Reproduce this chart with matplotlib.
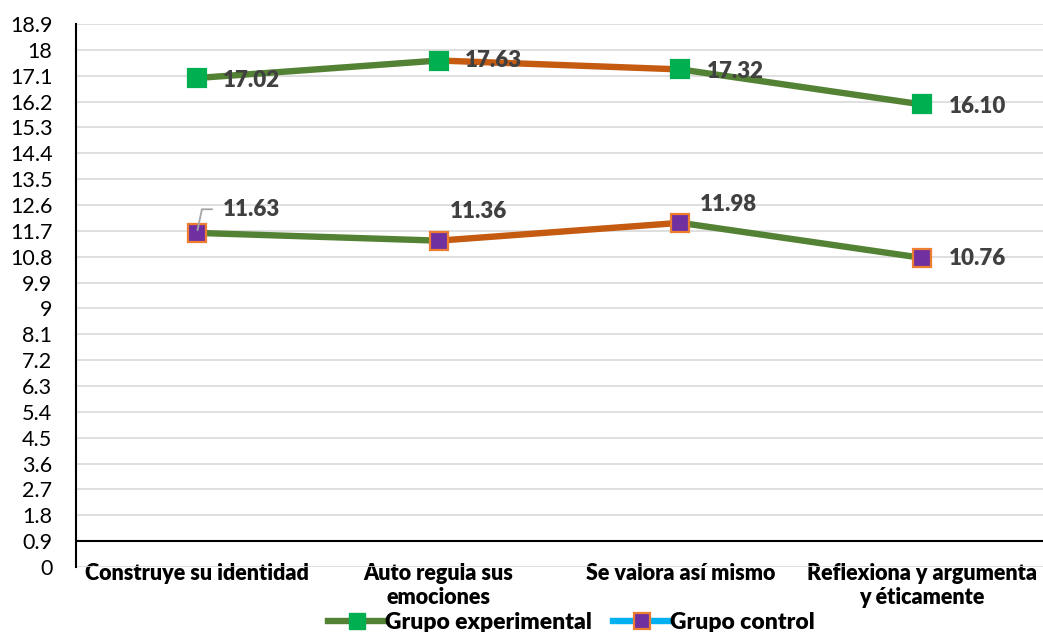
import matplotlib.pyplot as plt
import numpy as np
from matplotlib.lines import Line2D

plt.rcParams['font.family'] = ['Lato', 'DejaVu Sans']

categories = ['Construye su identidad', 'Auto regula sus\nemociones',
              'Se valora así mismo', 'Reflexiona y argumenta\ny éticamente']
experimental = [17.02, 17.63, 17.32, 16.10]
control = [11.63, 11.36, 11.98, 10.76]
# colour of each segment between consecutive points
exp_seg_colors = ['#548235', '#C55A11', '#548235']
ctl_seg_colors = ['#548235', '#C55A11', '#548235']
yticks = np.round(np.arange(0, 19.0, 0.9), 1)

GREEN = '#548235'
LABEL = '#404040'
BOLD = 'heavy'

fig = plt.figure(figsize=(10.43, 6.32), dpi=100)
ax = fig.add_axes([0.0729, 0.1028, 0.9271, 0.8592])

x = np.arange(len(categories))

def draw_series(vals, seg_colors, face, edge):
    for i, c in enumerate(seg_colors):
        ax.plot(x[i:i + 2], vals[i:i + 2], color=c, lw=4.6, solid_capstyle='butt', zorder=3)
    ax.plot(x, vals, ls='none', marker='s', ms=13.5, mfc=face, mec=edge, mew=1.6, zorder=4)

draw_series(experimental, exp_seg_colors, '#00B050', '#00B050')
draw_series(control, ctl_seg_colors, '#7030A0', '#ED7D31')

# data labels (offsets in points)
exp_off = [(18.7, -1.5), (18.7, 0), (18.7, -1.5), (19.4, -1.5)]
ctl_off = [(18.7, 16.5), (8, 21), (13.7, 13), (19.4, -0.7)]
for i, v in enumerate(experimental):
    ax.annotate(f'{v:.2f}', (x[i], v), xytext=exp_off[i], textcoords='offset points',
                ha='left', va='center', fontsize=16, fontweight=BOLD, color=LABEL, zorder=5)
for i, v in enumerate(control):
    ax.annotate(f'{v:.2f}', (x[i], v), xytext=ctl_off[i], textcoords='offset points',
                ha='left', va='center', fontsize=16, fontweight=BOLD, color=LABEL, zorder=5)
# leader line for first control label
ax.annotate('', (x[0], control[0]), xytext=(11, 17), textcoords='offset points',
            arrowprops=dict(arrowstyle='-', color='#A6A6A6', lw=1.3, shrinkA=0, shrinkB=2,
                            connectionstyle='angle,angleA=180,angleB=78,rad=0'), zorder=5)

ax.set_xlim(-0.5, 3.5)
ax.set_ylim(0, 18.9)
ax.set_yticks(yticks)
ax.set_yticklabels([f'{t:g}' for t in yticks], fontsize=15.5, color='black')
ax.set_xticks(x)
ax.set_xticklabels(categories, fontsize=15.5, fontweight=BOLD, linespacing=1.2)
ax.tick_params(axis='y', length=0, pad=17)
ax.tick_params(axis='x', length=0, pad=-3)
ax.grid(axis='y', color='#D9D9D9', lw=1.2)
ax.set_axisbelow(True)
for s in ['top', 'right', 'bottom']:
    ax.spines[s].set_visible(False)
ax.spines['left'].set_color('black')
ax.spines['left'].set_linewidth(1.5)
ax.axhline(0.9, color='black', lw=1.5, zorder=2)

handles = [
    Line2D([], [], color=GREEN, lw=4.6, marker='s', ms=11, mfc='#00B050', mec='#00B050'),
    Line2D([], [], color='#00B0F0', lw=4.6, marker='s', ms=11, mfc='#7030A0', mec='#ED7D31', mew=1.6),
]
leg = fig.legend(handles, ['Grupo experimental', 'Grupo control'], loc='lower center',
                 bbox_to_anchor=(0.548, -0.035), ncol=2, frameon=False, handlelength=2.5,
                 handletextpad=0.0, columnspacing=0.9,
                 prop={'size': 16.5, 'weight': BOLD})

fig.savefig('out.png', dpi=100)
